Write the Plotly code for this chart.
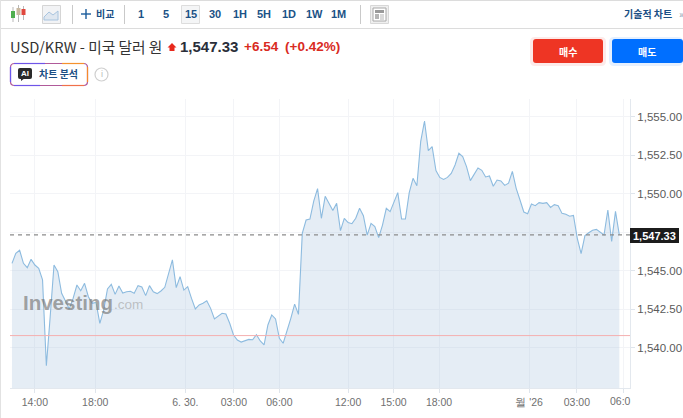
import plotly.graph_objects as go

W, H = 683, 418

prices_a = [1545.48,1546.13,1546.33,1545.48,1545.20,1545.74,1545.37,1545.15,1544.40,1538.82,1542.01,1545.37,1544.94,1543.53,1543.03,1542.51,1543.20,1544.07,1543.70,1544.18,1543.31,1542.88,1542.94,1541.58,1542.44,1543.81,1544.11,1543.46,1544.00,1543.55,1543.63,1543.66,1543.53,1544.03,1543.94,1543.38,1544.03,1543.63,1543.51,1543.68,1543.92,1544.83,1545.70,1543.90,1544.61,1543.74,1543.96,1543.20,1542.51,1542.77,1542.88,1543.05,1542.55,1541.86,1542.05,1542.23,1542.18,1541.58]
prices_b = [1540.82,1540.49,1540.36,1540.47,1540.53,1540.51,1540.84,1540.43,1540.17,1541.47,1542.12,1541.86,1540.60,1540.28,1541.03,1541.90,1542.83,1542.16]
prices_c = [1547.43,1548.30,1548.36,1549.53,1550.34,1548.41,1549.84,1549.38,1548.91,1549.38,1547.61,1548.41,1548.13,1548.06,1548.41,1549.06,1548.58,1547.32,1548.08,1547.87,1547.15,1547.97,1549.06,1548.84,1549.49,1550.08,1548.36,1548.36,1550.08,1551.01,1550.53,1553.40,1554.74,1552.81,1553.07,1551.51,1551.07,1550.94,1551.07,1551.33,1551.88,1552.64]
prices_d = [1552.42,1551.77,1550.86,1551.29,1551.68,1551.53,1551.10,1551.16,1550.49,1550.90,1550.84,1550.55,1550.69,1551.46,1550.36,1549.60,1548.82,1548.71,1549.34,1549.23,1549.43,1549.38,1549.43,1549.12,1549.30,1549.23,1548.73,1548.67,1548.54,1548.60,1547.11,1546.11,1547.28,1547.47,1547.63,1547.69,1547.52,1547.32,1548.95,1546.91,1548.86,1547.33]
prices = prices_a + prices_b + prices_c + prices_d
bar_index = list(range(len(prices)))

time_tick_pos = [6.0, 21.8, 45.4, 58.1, 70.0, 88.0, 99.9, 111.8, 135.4, 147.9, 160.0]
time_tick_text = ["14:00", "18:00", "6. 30.", "03:00", "06:00", "12:00", "15:00", "18:00", "월 '26", "03:00", ""]
price_ticks = [1540, 1542.5, 1545, 1547.5, 1550, 1552.5, 1555]
price_labels = ["1,540.00", "1,542.50", "1,545.00", "", "1,550.00", "1,552.50", "1,555.00"]
last_price = 1547.33
previous_close = 1540.78
period_labels = ["1", "5", "15", "30", "1H", "5H", "1D", "1W", "1M"]

KR = "'Noto Sans CJK KR','Liberation Sans',sans-serif"
LAT = "'Liberation Sans',Arial,sans-serif"
px = lambda v: v / W
py = lambda v: 1 - v / H
shapes, notes = [], []

def text(x, y, s, size=11, color="#333", family=KR, anchor="left", bold=False):
    notes.append(dict(xref="paper", yref="paper", x=px(x), y=py(y), text=f"<b>{s}</b>" if bold else s,
                      showarrow=False, xanchor=anchor, yanchor="middle", borderpad=0, borderwidth=0,
                      font=dict(size=size, color=color, family=family)))

def rect(x0, y0, x1, y1, fill="rgba(0,0,0,0)", line=None, lw=1, layer="above"):
    shapes.append(dict(type="rect", xref="paper", yref="paper", x0=px(x0), x1=px(x1), y0=py(y0), y1=py(y1),
                       fillcolor=fill, line=dict(color=line or "rgba(0,0,0,0)", width=lw if line else 0), layer=layer))

def rrect(x0, y0, x1, y1, r, fill="rgba(0,0,0,0)", line=None, lw=1):
    a, b, c, d = px(x0), px(x1), py(y0), py(y1)
    rx, ry = r / W, r / H
    p = (f"M{a+rx},{c} L{b-rx},{c} Q{b},{c} {b},{c-ry} L{b},{d+ry} Q{b},{d} {b-rx},{d} "
         f"L{a+rx},{d} Q{a},{d} {a},{d+ry} L{a},{c-ry} Q{a},{c} {a+rx},{c} Z")
    shapes.append(dict(type="path", xref="paper", yref="paper", path=p, fillcolor=fill,
                       line=dict(color=line or "rgba(0,0,0,0)", width=lw if line else 0)))

def seg(x0, y0, x1, y1, color, w=1, dash="solid"):
    shapes.append(dict(type="line", xref="paper", yref="paper", x0=px(x0), x1=px(x1), y0=py(y0), y1=py(y1),
                       line=dict(color=color, width=w, dash=dash)))

# frame lines
seg(0, 0.5, W, 0.5, "#dcdcdc", 1)
seg(0, 28.5, W, 28.5, "#dcdcdc", 1)
seg(0.5, 0, 0.5, H, "#e2e2e2", 1)
for sx in (72.5, 124.5, 360.5):
    seg(sx, 5, sx, 24, "#c9c9c9", 1)

# candle icon
for cx, c, t, b, wt, wb in [(13, "#4fae4f", 11, 18, 7, 22), (18.5, "#c9b9a0", 8, 15, 5, 22), (23.5, "#e0483e", 9, 15, 6, 20)]:
    seg(cx, wt, cx, wb, "#b9b9b9", 1)
    rect(cx - 2, t, cx + 2, b, fill=c)
# line icon
rect(42.5, 5.5, 60.5, 23.5, fill="#f2f3f5", line="#d5d5d5")
shapes.append(dict(type="path", xref="paper", yref="paper", line=dict(color="#a8c4df", width=1), fillcolor="#dfe7f0",
                   path=f"M{px(44)},{py(20)} L{px(44)},{py(17)} L{px(49)},{py(12)} L{px(53)},{py(15)} L{px(58)},{py(11)} L{px(58)},{py(20)} Z"))
# compare
seg(81, 14, 91, 14, "#1b5c9c", 1.4)
seg(86, 9, 86, 19, "#1b5c9c", 1.4)
text(96, 14, "비교", 10, "#1b4f85", bold=True)
# periods
rect(181.5, 5.5, 199.5, 23.5, fill="#f4f5f6", line="#dddddd")
for lab, x in zip(period_labels, [141, 166, 190.5, 215, 240, 264, 289, 314, 338]):
    text(x, 14.5, lab, 11, "#1b5286", LAT, "center", True)
# news icon
rect(370.5, 5.5, 388.5, 23.5, fill="#efefef", line="#d8d8d8")
rect(373, 8, 386, 21, fill="#ffffff", line="#a8a8a8")
rect(375, 10, 384, 13, fill="#9a9a9a")
rect(375, 14, 379, 19, fill="#b5b5b5")
for yy in (15, 17, 19):
    seg(380, yy, 384, yy, "#b5b5b5", 1)
text(624, 14, "기술적 차트", 10, "#1b4f85", bold=True)
text(679, 14, "»", 10, "#8a9bb0")

# header
text(10, 46, "USD/KRW - 미국 달러 원", 14.7, "#333333")
shapes.append(dict(type="path", xref="paper", yref="paper", fillcolor="#e8281c", line=dict(width=0),
                   path=f"M{px(172)},{py(43)} L{px(176.5)},{py(47.5)} L{px(174.5)},{py(47.5)} L{px(174.5)},{py(51)} L{px(169.5)},{py(51)} L{px(169.5)},{py(47.5)} L{px(167.5)},{py(47.5)} Z"))
text(180, 47, "1,547.33", 15, "#2a2e39", LAT, bold=True)
text(244, 46, "+6.54", 13.5, "#d92b1f", LAT, bold=True)
text(285, 46, "(+0.42%)", 13.5, "#d92b1f", LAT, bold=True)

# AI button
rrect(10.5, 63.5, 87.5, 85.5, 4, fill="#ffffff", line="#b05a9a", lw=1.2)
seg(14, 63.5, 45, 63.5, "#6f55e8", 1.2)
seg(14, 85.5, 40, 85.5, "#6f55e8", 1.2)
seg(10.5, 67, 10.5, 82, "#6a58ee", 1.2)
seg(62, 63.5, 84, 63.5, "#f5922e", 1.2)
seg(62, 85.5, 84, 85.5, "#f0704a", 1.2)
seg(87.5, 67, 87.5, 82, "#f58a2c", 1.2)
rrect(18, 68, 32, 79, 2, fill="#2a2a2a")
shapes.append(dict(type="path", xref="paper", yref="paper", fillcolor="#2a2a2a", line=dict(width=0),
                   path=f"M{px(21)},{py(78)} L{px(21)},{py(81)} L{px(25)},{py(78)} Z"))
text(25, 73.5, "AI", 8, "#ffffff", LAT, "center", True)
text(39, 73.5, "차트 분석", 10, "#1b4f85", bold=True)
shapes.append(dict(type="circle", xref="paper", yref="paper", x0=px(95), x1=px(108), y0=py(68), y1=py(81),
                   line=dict(color="#cfcfcf", width=1.2)))
text(101.5, 74.5, "i", 9, "#b8b8b8", LAT, "center")

# trade buttons
rrect(530, 37, 606, 66, 5, fill="rgba(238,53,36,0.10)")
rrect(533, 39, 603, 63, 3, fill="#ee3524")
text(567.5, 51, "매수", 10, "#ffffff", anchor="center", bold=True)
rrect(609, 37, 683, 66, 5, fill="rgba(0,111,255,0.10)")
rrect(612, 39, 683, 63, 3, fill="#006fff")
text(647, 51, "매도", 10, "#ffffff", anchor="center", bold=True)

# watermark
text(23, 302, "Investing", 20.5, "rgba(120,120,120,0.68)", LAT, bold=True)
text(114, 304.5, ".com", 13.5, "rgba(160,160,160,0.6)", LAT)

# clipped tick label and last price tag
text(620.5, 401, "06:0", 10.5, "#707070", LAT, "center")
rect(630, 228, 679, 243, fill="#1c1c1c")
text(654.5, 235.5, "1,547.33", 11, "#ffffff", LAT, "center", True)

# reference lines
shapes.append(dict(type="line", xref="paper", yref="y", x0=px(10), x1=px(630), y0=previous_close, y1=previous_close,
                   line=dict(color="rgb(245,175,175)", width=1)))
shapes.append(dict(type="line", xref="paper", yref="y", x0=px(10), x1=px(630), y0=last_price, y1=last_price,
                   line=dict(color="#8c8c8c", width=1.3, dash="4px,4px")))

fig = go.Figure(go.Scatter(x=bar_index, y=prices, mode="lines", fill="tozeroy",
                           fillcolor="rgba(150,185,215,0.25)",
                           line=dict(color="#8dbbdf", width=1.1), hoverinfo="skip"))
fig.update_layout(
    width=W, height=H, autosize=False, margin=dict(l=0, r=0, t=0, b=0),
    paper_bgcolor="#ffffff", plot_bgcolor="#ffffff", showlegend=False,
    shapes=shapes, annotations=notes,
    xaxis=dict(domain=[10 / W, 630 / W], range=[-0.52, 161.8], tickmode="array",
               tickvals=time_tick_pos, ticktext=time_tick_text, ticks="outside", ticklen=4,
               tickcolor="#dfe5ec", showline=True, linecolor="#e3e8ee", linewidth=1,
               gridcolor="#f3f4f7", gridwidth=1, zeroline=False,
               tickfont=dict(size=10.5, color="#707070", family=LAT)),
    yaxis=dict(domain=[1 - 388 / H, 1 - 99 / H], range=[1537.37, 1556.17], side="right", tickmode="array",
               tickvals=price_ticks, ticktext=price_labels, ticks="outside", ticklen=4,
               tickcolor="#dfe5ec", showline=True, linecolor="#e3e8ee", linewidth=1,
               gridcolor="#f3f4f7", gridwidth=1, zeroline=False,
               tickfont=dict(size=11.5, color="#5a5a5a", family=LAT)),
)
fig.write_html("out.html", config=dict(displayModeBar=False),
               post_script="document.body.style.margin='0';document.documentElement.style.overflow='hidden';")
